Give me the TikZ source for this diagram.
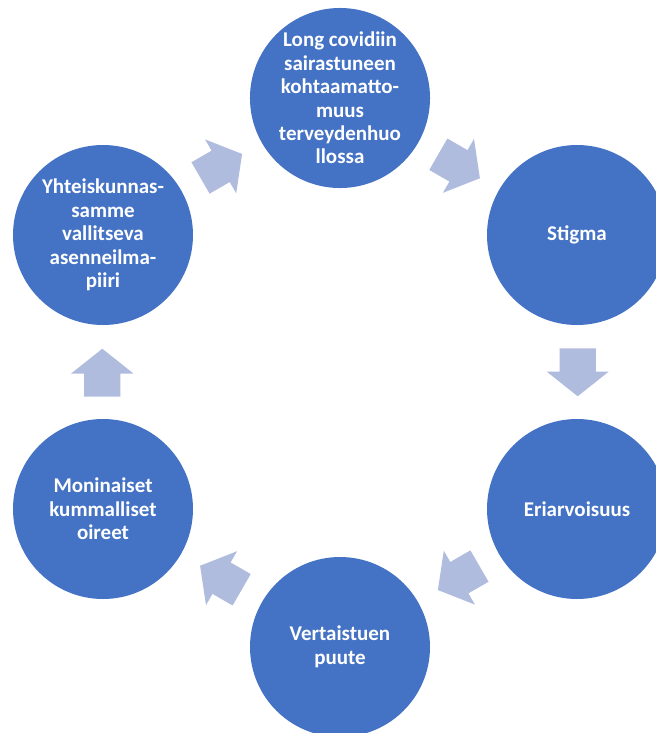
\documentclass[tikz,border=0pt]{standalone}
\usepackage{fontspec}
\setmainfont{Carlito}
\usetikzlibrary{shapes.arrows}

\definecolor{cycleblue}{RGB}{68,114,196}
\definecolor{arrowblue}{RGB}{176,188,222}

\tikzset{
  cyclenode/.style={circle, fill=cycleblue, text=white, minimum size=135pt, inner sep=0pt,
    align=center, font=\fontsize{15.75}{17.6}\selectfont\bfseries},
  cyclearrow/.style={single arrow, fill=arrowblue, minimum height=36pt, minimum width=46pt,
    single arrow head extend=9.75pt, single arrow tip angle=103, inner xsep=0pt, inner ysep=13.4pt,
    anchor=tail},
}

\begin{document}
\begin{tikzpicture}[x=0.75pt,y=0.75pt,yscale=-1,xscale=1]
        %set diagram size
        \path[use as bounding box] (0,0) rectangle (656,733);

        %Shape: Circle
        \node[cyclenode] (hoito) at (340,98) {Long covidiin\\sairastuneen\\kohtaamatto-\\muus\\terveydenhuo\\llossa};
        %Shape: Circle
        \node[cyclenode] (stigma) at (577,235) {Stigma};
        %Shape: Circle
        \node[cyclenode] (eriarvo) at (577,509) {Eriarvoisuus};
        %Shape: Circle
        \node[cyclenode] (vertais) at (340,647) {Vertaistuen\\puute};
        %Shape: Circle
        \node[cyclenode] (oireet) at (103,509) {Moninaiset\\kummalliset\\oireet};
        %Shape: Circle
        \node[cyclenode] (asenne) at (103,235) {Yhteiskunnas-\\samme\\vallitseva\\asenneilma-\\piiri};

        %Right Arrow (placed at its tail)
        \node[cyclearrow, rotate=-30] (hoitostigma) at (438.1,154.1) {};
        %Right Arrow
        \node[cyclearrow, rotate=-90] (stigmaeri) at (577.7,348) {};
        %Right Arrow
        \node[cyclearrow, rotate=-150] (erivertais) at (479.7,565.9) {};
        %Right Arrow
        \node[cyclearrow, rotate=150] (vertaisoireet) at (241.9,589.9) {};
        %Right Arrow
        \node[cyclearrow, rotate=90] (oireetasenne) at (102.3,397) {};
        %Right Arrow
        \node[cyclearrow, rotate=30] (asennehoito) at (200.3,178.1) {};

\end{tikzpicture}
\end{document}
